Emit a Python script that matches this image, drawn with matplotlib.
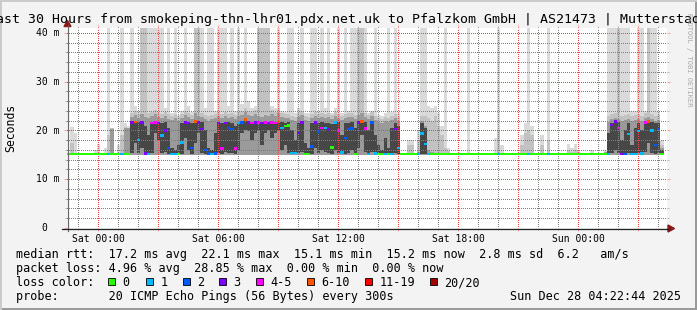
import numpy as np
import matplotlib
matplotlib.use("Agg")
import matplotlib.pyplot as plt
from matplotlib.patches import Rectangle, Polygon
from matplotlib.lines import Line2D
from matplotlib.transforms import blended_transform_factory

nan = np.nan

# ---------------- data (10-minute bins, first bin starts Fri 22:27) ----------------
start_hour = -1.55          # hours relative to Sat 00:00
bin_hours = 1.0 / 6.0

med_ms = [
    15.2, 15.2, 15.2, 15.2, 15.2, 15.2, 15.2, 15.2, 15.2, 15.2,
    15.2, 15.2, 15.2, 15.2, 15.2, 15.2, 15.2, 15.2, 15.2, 21.6,
    21.7, 18.0, 21.6, 15.3, 15.2, 21.5, 21.6, 21.5, 19.0, 20.0,
    16.4, 15.2, 15.2, 15.2, 17.5, 21.6, 21.5, 16.4, 21.8, 21.6,
    20.3, 16.0, 15.3, 15.2, 15.3, 21.5, 16.3, 21.5, 20.5, 20.3,
    16.3, 21.5, 21.6, 22.2, 21.6, 21.5, 21.6, 21.6, 21.5, 21.6,
    21.5, 21.6, 21.5, 21.7, 20.5, 20.9, 21.0, 15.4, 15.4, 19.5,
    21.6, 15.2, 15.2, 16.7, 21.6, 19.8, 20.5, 20.5, 20.2, 16.5,
    21.6, 20.0, 15.5, 18.5, 20.3, 20.4, 15.2, 21.6, 21.8, 20.4,
    15.2, 21.6, 15.3, 15.2, 15.2, 15.2, 15.2, 15.2, 20.3, 16.4,
    15.2, 15.2, 15.2, 15.2, 15.2, 15.2, 19.4, 17.2, 15.2, 15.2,
    15.2, 15.2, 15.2, 15.2, 15.2, 15.2, 15.2, 15.2, 15.2, 15.2,
    15.2, 15.2, 15.2, 15.2, 15.2, 15.2, 15.2, 15.2, 15.2, 15.2,
    15.2, 15.2, 15.2, 15.2, 15.2, 15.2, 15.2, 15.2, 15.2, 15.2,
    15.2, 15.2, 15.2, 15.2, 15.2, 15.2, 15.2, 15.2, 15.2, 15.2,
    15.2, 15.2, 15.2, 15.2, 15.2, 15.2, 15.2, 15.2, 15.2, 15.2,
    15.2, 15.2, 15.2, 21.1, 21.8, 20.5, 15.2, 15.2, 19.3, 15.2,
    15.2, 19.9, 15.3, 21.6, 21.8, 20.0, 17.0, 20.3, 15.2, nan,
]

loss_cnt = [
    0, 0, 0, 0, 0, 0, 0, 0, 0, 0,
    0, 0, 1, 0, 0, 0, 1, 0, 0, 3,
    7, 1, 3, 3, 1, 4, 4, 3, 1, 3,
    2, 1, 1, 0, 1, 3, 3, 2, 7, 3,
    3, 2, 2, 1, 2, 3, 4, 3, 2, 2,
    4, 1, 2, 7, 3, 4, 3, 4, 3, 4,
    3, 4, 4, 7, 1, 0, 0, 1, 1, 3,
    3, 0, 0, 2, 3, 2, 4, 1, 3, 0,
    1, 4, 1, 2, 2, 2, 0, 3, 7, 4,
    1, 2, 1, 0, 0, 1, 0, 1, 3, 1,
    0, 0, 0, 0, 0, 1, 1, 1, 1, 0,
    0, 0, 0, 0, 0, 0, 0, 0, 0, 0,
    0, 0, 0, 0, 0, 0, 0, 0, 0, 1,
    0, 0, 0, 0, 0, 0, 0, 0, 1, 0,
    0, 0, 0, 0, 1, 0, 0, 0, 0, 0,
    0, 0, 0, 0, 0, 0, 0, 0, 0, 0,
    0, 0, 1, 3, 3, 4, 3, 2, 1, 1,
    1, 1, 1, 4, 7, 1, 2, 2, 0, 0,
]

rtt_floor_ms = 15.0

iq_lo = [
    15.1, 15.1, 15.1, 15.1, 15.1, 15.1, 15.1, 15.1, 15.1, 15.1,
    15.1, 15.1, 15.1, 15.1, 15.1, 15.1, 15.1, 15.1, 15.1, 15.3,
    17.5, 15.3, 16.5, 15.1, 15.1, 15.3, 19.5, 18.0, 15.3, 15.5,
    15.1, 15.1, 15.1, 15.1, 15.2, 18.5, 16.0, 15.1, 17.5, 19.5,
    15.4, 15.1, 15.1, 15.1, 15.1, 15.3, 15.1, 15.5, 15.4, 15.4,
    15.1, 16.0, 19.5, 20.0, 19.8, 18.0, 19.5, 20.0, 17.0, 19.5,
    20.0, 18.5, 19.5, 20.0, 16.0, 17.0, 15.3, 15.1, 15.1, 15.3,
    15.5, 15.1, 15.1, 15.1, 16.5, 15.3, 16.0, 15.5, 15.4, 15.1,
    16.0, 15.4, 15.1, 15.2, 15.4, 16.0, 15.1, 16.5, 19.0, 15.5,
    15.1, 15.5, 15.1, 15.1, 15.1, 15.1, 15.1, 15.1, 15.3, 15.1,
    15.1, 15.1, 15.1, 15.1, 15.1, 15.1, 15.2, 15.2, 15.1, 15.1,
    15.1, 15.1, 15.1, 15.1, 15.1, 15.1, 15.1, 15.1, 15.1, 15.1,
    15.1, 15.1, 15.1, 15.1, 15.1, 15.1, 15.1, 15.1, 15.1, 15.1,
    15.1, 15.1, 15.1, 15.1, 15.1, 15.1, 15.1, 15.1, 15.1, 15.1,
    15.1, 15.1, 15.1, 15.1, 15.1, 15.1, 15.1, 15.1, 15.1, 15.1,
    15.1, 15.1, 15.1, 15.1, 15.1, 15.1, 15.1, 15.1, 15.1, 15.1,
    15.1, 15.1, 15.1, 15.3, 16.0, 15.3, 15.1, 15.1, 15.3, 15.1,
    15.1, 15.3, 15.1, 15.5, 17.5, 15.4, 15.2, 15.3, 15.1, nan,
]

iq_hi = [
    15.3, 15.3, 15.3, 15.3, 15.3, 15.3, 15.3, 15.3, 15.3, 15.3,
    15.3, 15.3, 15.3, 15.3, 15.3, 15.3, 15.3, 15.3, 15.3, 21.9,
    22.0, 21.7, 21.9, 21.0, 19.0, 21.8, 21.9, 21.8, 21.6, 21.7,
    20.5, 16.5, 16.0, 17.0, 21.6, 21.9, 21.8, 21.5, 22.1, 21.9,
    21.8, 20.0, 16.5, 16.0, 19.5, 21.8, 21.5, 21.8, 21.7, 21.6,
    21.0, 21.8, 21.9, 22.4, 21.9, 21.8, 21.9, 21.9, 21.8, 21.9,
    21.8, 21.9, 21.8, 22.0, 21.7, 21.6, 21.7, 20.0, 18.0, 21.6,
    21.9, 17.5, 16.5, 21.5, 21.9, 21.6, 21.7, 21.6, 21.6, 21.3,
    21.9, 21.7, 19.0, 21.6, 21.6, 21.7, 20.5, 21.9, 22.1, 21.7,
    20.0, 21.9, 19.0, 17.0, 16.0, 18.5, 16.5, 20.5, 21.6, 21.0,
    15.3, 15.3, 15.3, 15.3, 15.3, 15.3, 21.5, 20.5, 15.3, 15.3,
    15.3, 15.3, 15.3, 15.3, 15.3, 15.3, 15.3, 15.3, 15.3, 15.3,
    15.3, 15.3, 15.3, 15.3, 15.3, 15.3, 15.3, 15.3, 15.3, 15.3,
    15.3, 15.3, 15.3, 15.3, 15.3, 15.3, 15.3, 15.3, 15.3, 15.3,
    15.3, 15.3, 15.3, 15.3, 15.3, 15.3, 15.3, 15.3, 15.3, 15.3,
    15.3, 15.3, 15.3, 15.3, 15.3, 15.3, 15.3, 15.3, 15.3, 15.3,
    15.3, 15.3, 19.5, 21.6, 22.0, 21.7, 18.0, 20.0, 21.5, 17.0,
    20.5, 21.6, 20.0, 21.9, 22.0, 21.7, 21.5, 21.6, 16.0, nan,
]

p90_ms = [
    15.3, 15.3, 15.3, 15.3, 15.3, 15.3, 15.3, 15.3, 15.3, 15.3,
    15.3, 15.3, 15.3, 20.3, 15.3, 15.3, 15.3, 20.5, 20.5, 22.8,
    23.2, 22.6, 23.4, 22.8, 22.5, 22.9, 23.3, 22.7, 22.5, 23.0,
    22.4, 22.2, 22.6, 22.0, 22.5, 23.1, 22.8, 22.4, 23.6, 23.0,
    22.7, 22.3, 22.0, 22.4, 22.6, 22.9, 22.5, 23.0, 22.6, 22.8,
    22.4, 23.0, 23.2, 23.8, 23.1, 22.9, 23.4, 23.0, 22.8, 23.2,
    22.9, 23.3, 23.0, 23.6, 22.7, 22.5, 22.6, 22.2, 22.0, 22.7,
    23.1, 22.2, 22.0, 22.6, 23.0, 22.5, 22.8, 22.6, 22.7, 22.3,
    23.0, 22.6, 22.1, 22.5, 22.7, 22.8, 22.3, 23.2, 23.5, 22.8,
    22.3, 22.9, 22.2, 21.8, 21.6, 22.0, 21.7, 22.2, 22.5, 22.0,
    15.3, 15.3, 15.3, 15.3, 15.3, 15.5, 22.0, 21.0, 16.0, 15.5,
    15.3, 15.3, 15.3, 15.3, 15.3, 15.3, 15.3, 15.3, 15.3, 15.3,
    15.3, 15.3, 15.3, 15.3, 15.3, 15.3, 15.3, 15.3, 15.3, 15.3,
    15.3, 15.3, 15.3, 15.3, 15.3, 15.3, 15.3, 15.3, 15.3, 15.3,
    15.3, 15.3, 15.3, 15.3, 15.3, 15.3, 15.3, 15.3, 15.3, 15.3,
    15.3, 15.3, 15.3, 15.3, 15.3, 15.3, 15.3, 15.3, 15.3, 15.3,
    15.3, 15.5, 21.8, 22.3, 22.6, 22.4, 22.0, 22.2, 22.3, 21.9,
    22.1, 22.4, 22.0, 22.6, 22.8, 22.3, 22.0, 22.2, 16.5, nan,
]

peak2_ms = [
    15.3, 17.5, 15.3, 15.3, 15.3, 15.3, 15.3, 15.3, 15.3, 15.3,
    15.3, 15.3, 19.0, 20.5, 15.3, 15.3, 19.0, 20.8, 20.5, 23.6,
    24.0, 23.4, 45.0, 45.0, 23.5, 23.8, 24.1, 23.6, 23.4, 23.8,
    23.3, 23.0, 23.4, 22.8, 23.3, 23.9, 23.6, 23.2, 45.0, 45.0,
    23.5, 23.1, 22.9, 23.2, 23.4, 23.7, 23.3, 23.8, 23.4, 23.6,
    23.2, 23.8, 24.0, 24.5, 23.9, 23.7, 24.2, 45.0, 45.0, 45.0,
    45.0, 24.1, 23.8, 24.3, 23.5, 23.3, 23.4, 23.0, 22.8, 23.5,
    23.9, 23.0, 22.8, 23.4, 23.8, 23.3, 23.6, 23.4, 23.5, 23.1,
    23.8, 23.4, 22.9, 23.3, 23.5, 23.6, 23.1, 45.0, 45.0, 23.6,
    23.1, 23.7, 23.0, 22.6, 22.4, 22.8, 22.5, 23.0, 23.3, 22.8,
    15.3, 15.3, 17.0, 17.0, 15.3, 18.0, 23.0, 23.0, 22.5, 22.0,
    23.0, 21.0, 19.0, 16.5, 15.8, 15.3, 15.3, 15.3, 15.3, 15.3,
    15.3, 15.3, 15.3, 15.3, 15.3, 15.3, 15.3, 15.3, 15.3, 20.0,
    15.3, 15.3, 15.3, 15.3, 15.3, 15.3, 17.0, 19.5, 20.0, 19.0,
    15.3, 15.3, 17.0, 15.3, 18.0, 15.3, 15.3, 15.3, 15.3, 15.3,
    16.0, 15.5, 16.0, 15.5, 15.3, 15.3, 15.3, 15.3, 15.3, 15.3,
    15.3, 15.5, 23.0, 23.4, 23.6, 45.0, 23.0, 23.2, 23.3, 22.9,
    23.1, 23.4, 23.0, 23.6, 45.0, 23.3, 23.0, 23.2, 17.0, nan,
]

peak_ms = [
    15.3, 20.7, 19.5, 15.3, 15.3, 15.3, 15.3, 15.3, 16.0, 17.2,
    15.3, 16.5, 45.0, 20.5, 15.3, 17.0, 45.0, 21.5, 21.0, 45.0,
    25.0, 24.0, 45.0, 45.0, 45.0, 45.0, 45.0, 45.0, 45.0, 24.5,
    45.0, 23.6, 45.0, 23.2, 24.0, 45.0, 25.0, 23.8, 45.0, 45.0,
    45.0, 24.5, 45.0, 45.0, 24.0, 45.0, 45.0, 45.0, 25.0, 45.0,
    24.0, 45.0, 25.5, 45.0, 26.0, 24.5, 25.0, 45.0, 45.0, 45.0,
    45.0, 25.0, 24.5, 45.0, 24.0, 23.8, 45.0, 45.0, 23.6, 24.5,
    45.0, 23.5, 23.5, 45.0, 45.0, 24.0, 45.0, 24.5, 45.0, 23.6,
    24.5, 45.0, 23.5, 45.0, 24.0, 45.0, 45.0, 45.0, 45.0, 45.0,
    23.6, 24.0, 45.0, 23.2, 23.0, 23.5, 45.0, 23.8, 45.0, 23.5,
    15.3, 15.3, 18.0, 18.0, 15.3, 20.0, 45.0, 45.0, 25.0, 24.5,
    25.0, 23.5, 21.0, 45.0, 16.5, 15.3, 15.3, 15.3, 15.3, 15.3,
    45.0, 15.3, 15.3, 15.3, 15.3, 15.3, 15.3, 15.3, 18.5, 45.0,
    17.0, 15.3, 15.3, 15.3, 15.3, 15.3, 19.0, 21.5, 45.0, 21.0,
    15.3, 15.3, 19.0, 15.3, 45.0, 15.3, 15.3, 15.3, 15.3, 15.3,
    17.3, 16.5, 17.3, 16.0, 15.3, 15.3, 15.3, 16.0, 15.3, 15.3,
    15.3, 16.0, 45.0, 45.0, 45.0, 45.0, 45.0, 45.0, 45.0, 24.0,
    24.0, 45.0, 45.0, 24.0, 45.0, 45.0, 45.0, 24.0, 18.0, nan,
]

x_tick_hours = [0, 6, 12, 18, 24]
x_tick_labels = ["Sat 00:00", "Sat 06:00", "Sat 12:00", "Sat 18:00", "Sun 00:00"]
y_tick_values = [0, 10, 20, 30, 40]
y_tick_labels = ["0", "10 m", "20 m", "30 m", "40 m"]

loss_labels = ["0", "1", "2", "3", "4-5", "6-10", "11-19", "20/20"]
loss_palette = ["#26ff00", "#00b8ff", "#0059ff", "#7e00ff",
                "#ff00ff", "#ff5500", "#ff0000", "#a00000"]

title = ("Last 30 Hours from smokeping-thn-lhr01.pdx.net.uk to "
         "Pfalzkom GmbH | AS21473 | Mutterstadt")
stat_lines = [
    "median rtt:  17.2 ms avg  22.1 ms max  15.1 ms min  15.2 ms now  2.8 ms sd  6.2   am/s",
    "packet loss: 4.96 % avg  28.85 % max  0.00 % min  0.00 % now",
]
probe_line = "probe:       20 ICMP Echo Pings (56 Bytes) every 300s"
stamp = "Sun Dec 28 04:22:44 2025"

# ---------------- figure ----------------
W, H = 697, 310
MONO = "DejaVu Sans Mono"
fig = plt.figure(figsize=(W / 100, H / 100), dpi=100)
fig.patch.set_facecolor("#f3f3f3")


def fx(px):
    return px / W


def fy(py):
    return 1 - py / H


ax = fig.add_axes([fx(67), fy(228), 600 / W, 200 / H])
ax.set_facecolor("white")
ax.set_xlim(-1.55, 28.45)
ax.set_ylim(0, 41)
for s in ax.spines.values():
    s.set_visible(False)

n = len(med_ms)
t = start_hour + np.arange(n) * bin_hours
med = np.array(med_ms, float)
iql = np.array(iq_lo, float)
iqh = np.array(iq_hi, float)
p90 = np.array(p90_ms, float)
pk2 = np.array(peak2_ms, float)
pk = np.array(peak_ms, float)


def loss_color(c):
    if c <= 3:
        return loss_palette[c]
    if c <= 5:
        return loss_palette[4]
    if c <= 10:
        return loss_palette[5]
    if c <= 19:
        return loss_palette[6]
    return loss_palette[7]


kw = dict(width=bin_hours, align="edge", linewidth=0)
ax.bar(t, pk - rtt_floor_ms, bottom=rtt_floor_ms, color="#dadada", zorder=1, **kw)
ax.bar(t, pk2 - rtt_floor_ms, bottom=rtt_floor_ms, color="#c2c2c2", zorder=1.1, **kw)
ax.bar(t, p90 - rtt_floor_ms, bottom=rtt_floor_ms, color="#9a9a9a", zorder=1.2, **kw)
ax.bar(t, iqh - iql, bottom=iql, color="#474747", zorder=1.3, **kw)
ax.bar(t, np.full(n, 0.5), bottom=med - 0.25,
       color=[loss_color(c) for c in loss_cnt], zorder=3, **kw)

# grid & ticks (rrdtool style)
ax.set_xticks(np.arange(0, 28.1, 3))
ax.set_xticks(np.arange(-1, 28.5, 1), minor=True)
ax.set_yticks(np.arange(0, 40.1, 10))
ax.set_yticks(np.arange(2, 41, 2), minor=True)
grid_minor = (0.5, 0.5, 0.5, 0.3)
grid_major = (1.0, 0.25, 0.25, 0.35)
ax.set_axisbelow(False)
ax.grid(which="minor", color=grid_minor, lw=0.72, ls=(0, (1, 2)), antialiased=False)
ax.grid(which="major", color=grid_major, lw=0.72, ls=(0, (1, 2)), antialiased=False)
ax.tick_params(which="both", direction="out", top=True, bottom=True,
               left=True, right=True, labelbottom=False, labelleft=False)
ax.tick_params(which="major", length=2.16, width=0.72, color=(1.0, 0.4, 0.4, 0.6))
ax.tick_params(which="minor", length=1.44, width=0.72, color=(0.5, 0.5, 0.5, 0.5))

# tick labels
tx = blended_transform_factory(ax.transData, ax.transAxes)
for h, lab in zip(x_tick_hours, x_tick_labels):
    ax.text(h, -(241.7 - 228) / 200, lab, transform=tx, ha="center",
            va="baseline", family=MONO, fontsize=7.05, clip_on=False)
ty = blended_transform_factory(ax.transAxes, ax.transData)
for v, lab in zip(y_tick_values, y_tick_labels):
    xr = (59.5 - 67) / 600 if lab != "0" else (47.7 - 67) / 600
    ax.text(xr, v - 0.65, lab, transform=ty, ha="right", va="baseline",
            family=MONO, fontsize=7.05, clip_on=False)

# axis lines with arrows
fig.add_artist(Line2D([fx(67.5), fx(67.5)], [fy(231), fy(26)], color="#6a6a6a",
                      lw=0.9, transform=fig.transFigure))
fig.add_artist(Line2D([fx(62), fx(669)], [fy(228.5), fy(228.5)], color="#222222",
                      lw=0.9, transform=fig.transFigure))
fig.add_artist(Polygon([[fx(64), fy(26.5)], [fx(71), fy(26.5)], [fx(67.5), fy(20.5)]],
                       closed=True, color="#8b1a1a", transform=fig.transFigure))
fig.add_artist(Polygon([[fx(668), fy(225)], [fx(668), fy(232)], [fx(674.5), fy(228.5)]],
                       closed=True, color="#8b1a1a", transform=fig.transFigure))

# texts
fig.text(0.5, fy(23.3), title, ha="center", va="baseline", family=MONO, fontsize=9.5)
fig.text(fx(10.5), fy(127.5), "Seconds", rotation=90, ha="center", va="center",
         family=MONO, fontsize=8.3)
fig.text(fx(688.5), fy(60), "RRDTOOL / TOBI OETIKER", rotation=-90, ha="center",
         va="center", family=MONO, fontsize=5.1, color="#aaaaaa")
fig.text(fx(16), fy(258.3), stat_lines[0], ha="left", va="baseline", family=MONO, fontsize=8.5)
fig.text(fx(16), fy(272.3), stat_lines[1], ha="left", va="baseline", family=MONO, fontsize=8.5)
fig.text(fx(16), fy(286.3), "loss color:", ha="left", va="baseline", family=MONO, fontsize=8.5)
swatch_x = [108, 146, 183, 219, 256, 307, 365, 430]
for sx, lab, col in zip(swatch_x, loss_labels, loss_palette):
    fig.add_artist(Rectangle((fx(sx), fy(285.2)), 7 / W, 7 / H, facecolor=col,
                             edgecolor="black", lw=0.6, transform=fig.transFigure))
    fig.text(fx(sx + 14.5), fy(286.3), lab, ha="left", va="baseline", family=MONO, fontsize=8.5)
fig.text(fx(16), fy(300.3), probe_line, ha="left", va="baseline", family=MONO, fontsize=8.5)
fig.text(fx(680.5), fy(300.3), stamp, ha="right", va="baseline", family=MONO, fontsize=8.5)

# bevel border
fig.add_artist(Rectangle((0, 0), 1, 2 / H, facecolor="#9a9a9a", lw=0, transform=fig.transFigure))
fig.add_artist(Rectangle((1 - 2 / W, 0), 2 / W, 1, facecolor="#9a9a9a", lw=0, transform=fig.transFigure))
fig.add_artist(Rectangle((0, 1 - 2 / H), 1, 2 / H, facecolor="#cbcbcb", lw=0, transform=fig.transFigure))
fig.add_artist(Rectangle((0, 0), 2 / W, 1, facecolor="#cbcbcb", lw=0, transform=fig.transFigure))

fig.savefig("out.png", dpi=100, facecolor=fig.get_facecolor())
